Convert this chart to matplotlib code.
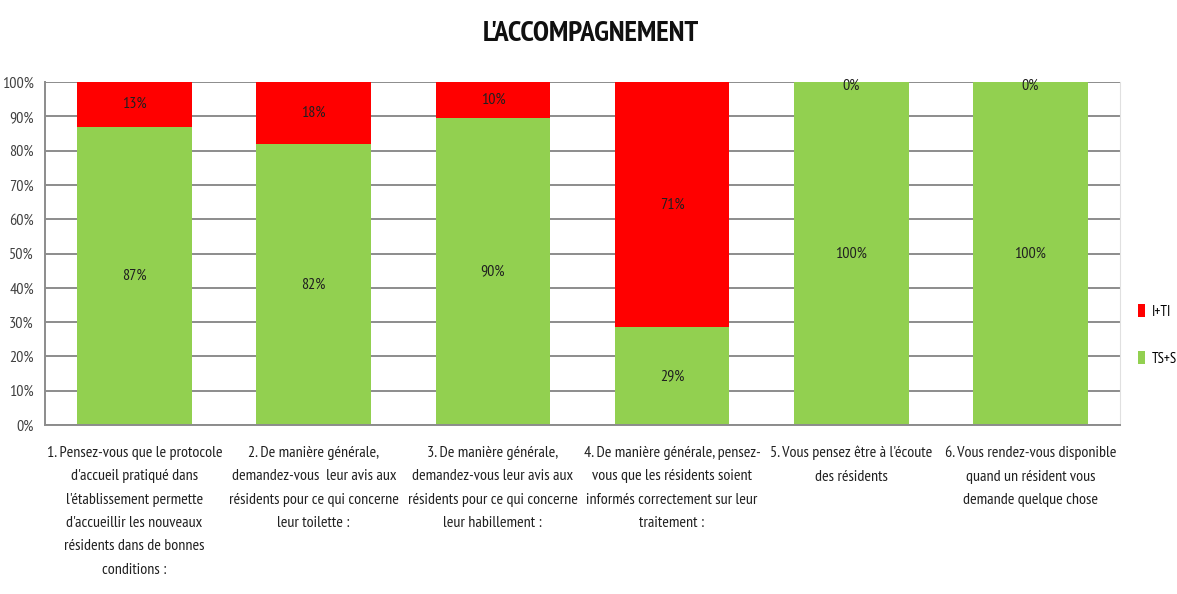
import matplotlib
matplotlib.use('Agg')
from matplotlib import pyplot as plt
import numpy as np

plt.rcParams['font.family'] = ['PT Sans Narrow', 'DejaVu Sans']

questions = [
    "1. Pensez-vous que le protocole\nd'accueil pratiqué dans\nl'établissement permette\nd'accueillir les nouveaux\nrésidents dans de bonnes\nconditions :",
    "2. De manière générale,\ndemandez-vous  leur avis aux\nrésidents pour ce qui concerne\nleur toilette :",
    "3. De manière générale,\ndemandez-vous leur avis aux\nrésidents pour ce qui concerne\nleur habillement :",
    "4. De manière générale, pensez-\nvous que les résidents soient\ninformés correctement sur leur\ntraitement :",
    "5. Vous pensez être à l'écoute\ndes résidents",
    "6. Vous rendez-vous disponible\nquand un résident vous\ndemande quelque chose",
]
ts_s = [87, 82, 90, 29, 100, 100]
i_ti = [13, 18, 10, 71, 0, 0]
# displayed stack heights (rounded labels do not always add to 100)
ts_s_height = [87, 82, 89.5, 28.5, 100, 100]

green = '#92d050'
red = '#ff0000'

fig = plt.figure(figsize=(11.77, 5.94), dpi=100)
ax = fig.add_axes([45 / 1177, 1 - 425 / 594, 1075 / 1177, 343 / 594])

x = np.arange(len(questions))
top_h = [100 - h for h in ts_s_height]
b1 = ax.bar(x, ts_s_height, width=0.64, color=green, label='TS+S', zorder=2)
b2 = ax.bar(x, top_h, width=0.64, bottom=ts_s_height, color=red, label='I+TI', zorder=2)

for xi, h, v in zip(x, ts_s_height, ts_s):
    ax.text(xi, h / 2, f'{v}%', ha='center', va='center', fontsize=11.5,
            color='#202020', zorder=3)
for xi, h, t, v in zip(x, ts_s_height, top_h, i_ti):
    y = h + t / 2 if t > 3 else 99
    ax.text(xi, y, f'{v}%', ha='center', va='center', fontsize=11.5,
            color='#202020', zorder=3)

ax.set_xlim(-0.5, len(questions) - 0.5)
ax.set_ylim(0, 100)
ax.set_yticks(np.arange(0, 101, 10))
ax.set_yticklabels([f'{v}%' for v in range(0, 101, 10)], fontsize=11.5, color='#404040')
ax.set_xticks(x)
ax.set_xticklabels(questions, fontsize=11.5, linespacing=1.85, va='top', color='#202020')
ax.tick_params(axis='both', length=0, pad=8)
ax.tick_params(axis='x', pad=15)
ax.yaxis.grid(True, color='#8c8c8c', linewidth=1.4, zorder=0)
ax.set_axisbelow(True)
for side in ['left', 'bottom']:
    ax.spines[side].set_color('#8c8c8c')
    ax.spines[side].set_linewidth(1.4)
ax.spines['top'].set_visible(False)
ax.spines['right'].set_color('#e0e0e0')

fig.text(591 / 1177, 1 - 34 / 594, "L'ACCOMPAGNEMENT", ha='center', va='center',
         fontsize=21, fontweight='bold', color='#101010')

fig.legend(handles=[b2, b1], labels=['I+TI', 'TS+S'], loc='center left',
           bbox_to_anchor=(1138 / 1177, 1 - 335 / 594), frameon=False,
           borderpad=0, borderaxespad=0,
           fontsize=10.5, handlelength=0.45, handleheight=1.0, handletextpad=0.5,
           labelspacing=2.2)

fig.savefig('out.png', dpi=100)
